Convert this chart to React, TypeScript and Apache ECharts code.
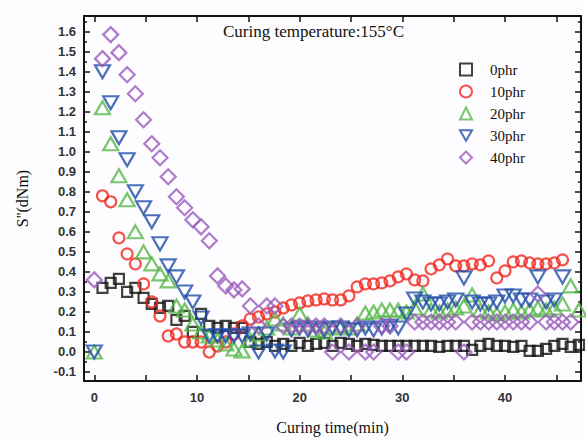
import { useEffect, useRef } from "react";
import * as echarts from "echarts";

// Sampling times of the rheometer readings (min)
const times = [
  0, 0.8, 1.6, 2.4, 3.2, 4, 4.8, 5.6, 6.4, 7.2,
  8, 8.8, 9.6, 10.4, 11.2, 12, 12.8, 13.6, 14.4, 15.2,
  16, 16.8, 17.6, 18.4, 19.2, 20, 20.8, 21.6, 22.4, 23.2,
  24, 24.8, 25.6, 26.4, 27.2, 28, 28.8, 29.6, 30.4, 31.2,
  32, 32.8, 33.6, 34.4, 35.2, 36, 36.8, 37.6, 38.4, 39.2,
  40, 40.8, 41.6, 42.4, 43.2, 44, 44.8, 45.6, 46.4, 47.2,
];

// S'' (dNm) for each filler loading, aligned with `times`
const s0phr = [
  null, 0.32, 0.345, 0.365, 0.3, 0.32, 0.27, 0.24, 0.22, 0.23,
  0.16, 0.18, 0.1, 0.19, 0.13, 0.12, 0.13, 0.12, 0.12, 0.05,
  0.04, 0.05, 0.03, 0.04, 0.03, 0.045, 0.03, 0.04, 0.045, 0.03,
  0.045, 0.04, 0.03, 0.04, 0.035, 0.03, 0.03, 0.03, 0.03, 0.03,
  0.03, 0.03, 0.025, 0.03, 0.03, 0.03, 0.01, 0.03, 0.04, 0.03,
  0.03, 0.025, 0.03, 0.005, 0.005, 0.015, 0.03, 0.04, 0.025, 0.035,
];
const s10phr = [
  null, 0.78, 0.75, 0.57, 0.49, 0.44, 0.34, 0.25, 0.18, 0.08,
  0.09, 0.05, 0.05, 0.05, 0.0, 0.03, 0.05, 0.09, 0.13, 0.165,
  0.175, 0.19, 0.2, 0.22, 0.235, 0.245, 0.255, 0.26, 0.265, 0.26,
  0.26, 0.28, 0.325, 0.34, 0.34, 0.345, 0.355, 0.375, 0.39, 0.36,
  0.355, 0.415, 0.435, 0.465, 0.43, 0.43, 0.44, 0.435, 0.455, 0.37,
  0.405, 0.45, 0.455, 0.445, 0.44, 0.44, 0.445, 0.46, null, null,
];
const s20phr = [
  0.0, 1.22, 1.04, 0.88, 0.76, 0.6, 0.5, 0.44, 0.39, 0.355,
  0.23, 0.21, 0.14, 0.1, 0.08, 0.06, 0.04, 0.015, 0.005, 0.06,
  0.09, 0.12, 0.165, 0.14, 0.12, 0.19, 0.14, 0.11, 0.1, 0.12,
  0.13, 0.12, 0.14, 0.195, 0.2, 0.21, 0.21, 0.21, 0.2, 0.22,
  0.29, 0.21, 0.2, 0.21, 0.22, 0.23, 0.285, 0.21, 0.2, 0.19,
  0.2, 0.21, 0.2, 0.21, 0.22, 0.21, 0.22, 0.24, 0.33, 0.21,
];
const s30phr = [
  0.0, 1.4, 1.245, 1.07, 0.96, 0.8, 0.72, 0.65, 0.54, 0.43,
  0.375, 0.3, 0.25, 0.17, 0.08, 0.08, 0.08, 0.08, 0.08, 0.09,
  0.0, 0.09, 0.005, 0.0, 0.11, 0.12, 0.11, 0.12, 0.11, 0.12,
  0.12, 0.11, 0.11, 0.12, 0.11, 0.12, 0.13, 0.12, 0.19, 0.265,
  0.25, 0.24, 0.24, 0.25, 0.26, 0.37, 0.25, 0.24, 0.24, 0.25,
  0.28, 0.28, 0.26, 0.26, 0.375, 0.25, 0.26, 0.375, null, null,
];
const s40phr = [
  0.36, 1.465, 1.585, 1.495, 1.385, 1.29, 1.16, 1.04, 0.97, 0.875,
  0.775, 0.72, 0.66, 0.625, 0.555, 0.38, 0.33, 0.31, 0.315, 0.23,
  0.13, 0.23, 0.23, 0.13, 0.13, 0.13, 0.13, 0.13, 0.13, 0.0,
  0.13, 0.0, 0.13, 0.0, 0.0, 0.13, 0.13, 0.0, 0.0, 0.15,
  0.15, 0.15, 0.15, 0.15, 0.15, 0.0, 0.15, 0.15, 0.15, 0.15,
  0.15, 0.15, 0.15, 0.15, 0.29, 0.15, 0.15, 0.15, 0.15, null,
];

const seriesNames = ["0phr", "10phr", "20phr", "30phr", "40phr"];

// Axis tick / label positions
const xLabelValues = [0, 10, 20, 30, 40];
const xTickValues = [0, 5, 10, 15, 20, 25, 30, 35, 40, 45];
const yLabelValues = [
  -0.1, 0, 0.1, 0.2, 0.3, 0.4, 0.5, 0.6, 0.7, 0.8, 0.9, 1.0, 1.1, 1.2, 1.3,
  1.4, 1.5, 1.6,
];
const yMinorTickValues = [
  -0.05, 0.05, 0.15, 0.25, 0.35, 0.45, 0.55, 0.65, 0.75, 0.85, 0.95, 1.05,
  1.15, 1.25, 1.35, 1.45, 1.55, 1.65,
];

const X_MIN = -1;
const X_MAX = 47.4;
const Y_MIN = -0.145;
const Y_MAX = 1.678;

const SERIF = '"Liberation Serif", "Times New Roman", serif';
const SANS = '"Liberation Sans", Arial, sans-serif';
const AXIS_COLOR = "#111111";

const DOWN_TRIANGLE = "path://M0,0L14,0L7,12Z";

function pairs(values: (number | null)[]) {
  return times
    .map((t, i) => [t, values[i]] as [number, number | null])
    .filter((p) => p[1] !== null);
}

function hollow(color: string) {
  return { color: "rgba(0,0,0,0)", borderColor: color, borderWidth: 2.2 };
}

function frameX(position: "bottom" | "top", withLabels: boolean) {
  return {
    type: "value",
    position,
    min: X_MIN,
    max: X_MAX,
    axisLine: { show: true, onZero: false, lineStyle: { color: AXIS_COLOR, width: 2 } },
    axisTick: {
      show: true,
      inside: true,
      length: 6,
      customValues: xTickValues,
      lineStyle: { color: AXIS_COLOR, width: 1.5 },
    },
    axisLabel: withLabels
      ? {
          show: true,
          customValues: xLabelValues,
          margin: 10,
          fontFamily: SANS,
          fontWeight: "bold",
          fontSize: 13,
          color: "#333333",
        }
      : { show: false },
    splitLine: { show: false },
  };
}

function frameY(
  position: "left" | "right",
  tickValues: number[],
  tickLength: number,
  showLine: boolean,
  withLabels: boolean
) {
  return {
    type: "value",
    position,
    min: Y_MIN,
    max: Y_MAX,
    axisLine: { show: showLine, onZero: false, lineStyle: { color: AXIS_COLOR, width: 2 } },
    axisTick: {
      show: true,
      inside: true,
      length: tickLength,
      customValues: tickValues,
      lineStyle: { color: AXIS_COLOR, width: 1.5 },
    },
    axisLabel: withLabels
      ? {
          show: true,
          customValues: yLabelValues,
          formatter: (v: number) => v.toFixed(1),
          margin: 8,
          fontFamily: SANS,
          fontWeight: "bold",
          fontSize: 13,
          color: "#333333",
        }
      : { show: false },
    splitLine: { show: false },
  };
}

export default function App() {
  const ref = useRef<HTMLDivElement>(null);

  useEffect(() => {
    document.body.style.margin = "0";
    if (!ref.current) return;
    const chart = echarts.init(ref.current, null, { renderer: "svg" });

    const bottomX: any = frameX("bottom", true);
    bottomX.name = "Curing time(min)";
    bottomX.nameLocation = "middle";
    bottomX.nameGap = 38;
    bottomX.nameTextStyle = { fontFamily: SERIF, fontSize: 16, color: "#111111" };

    const leftY: any = frameY("left", yLabelValues, 6, true, true);
    leftY.name = "S''(dNm)";
    leftY.nameLocation = "middle";
    leftY.nameRotate = 90;
    leftY.nameGap = 54;
    leftY.nameTextStyle = { fontFamily: SERIF, fontSize: 16, color: "#111111" };

    chart.setOption({
      animation: false,
      backgroundColor: "#fdfdff",
      title: {
        text: "Curing temperature:155°C",
        left: 223,
        top: 23,
        padding: 0,
        textStyle: { fontFamily: SERIF, fontSize: 17, fontWeight: "normal", color: "#111111" },
      },
      legend: {
        data: seriesNames,
        orient: "vertical",
        left: 459,
        top: 62,
        padding: 0,
        itemWidth: 12,
        itemHeight: 12,
        itemGap: 7,
        textStyle: {
          fontFamily: SERIF,
          fontSize: 15,
          color: "#111111",
          padding: [0, 0, 0, 13],
        },
      },
      grid: { left: 84, right: 5, top: 16, bottom: 50, containLabel: false },
      xAxis: [bottomX, frameX("top", false)],
      yAxis: [
        leftY,
        frameY("right", yLabelValues, 6, true, false),
        frameY("left", yMinorTickValues, 3, false, false),
        frameY("right", yMinorTickValues, 3, false, false),
      ],
      series: [
        {
          name: seriesNames[0],
          type: "scatter",
          data: pairs(s0phr),
          symbol: "rect",
          symbolSize: 10,
          itemStyle: hollow("#111111"),
        },
        {
          name: seriesNames[1],
          type: "scatter",
          data: pairs(s10phr),
          symbol: "circle",
          symbolSize: 11,
          itemStyle: hollow("#f0281e"),
        },
        {
          name: seriesNames[2],
          type: "scatter",
          data: pairs(s20phr),
          symbol: "triangle",
          symbolSize: [15, 13],
          itemStyle: hollow("#55b848"),
        },
        {
          name: seriesNames[3],
          type: "scatter",
          data: pairs(s30phr),
          symbol: DOWN_TRIANGLE,
          symbolSize: [15, 13],
          itemStyle: hollow("#1f4ea8"),
        },
        {
          name: seriesNames[4],
          type: "scatter",
          data: pairs(s40phr),
          symbol: "diamond",
          symbolSize: 15,
          itemStyle: hollow("#9b5bbd"),
        },
      ],
    });

    return () => chart.dispose();
  }, []);

  return <div ref={ref} style={{ width: 586, height: 440 }} />;
}
